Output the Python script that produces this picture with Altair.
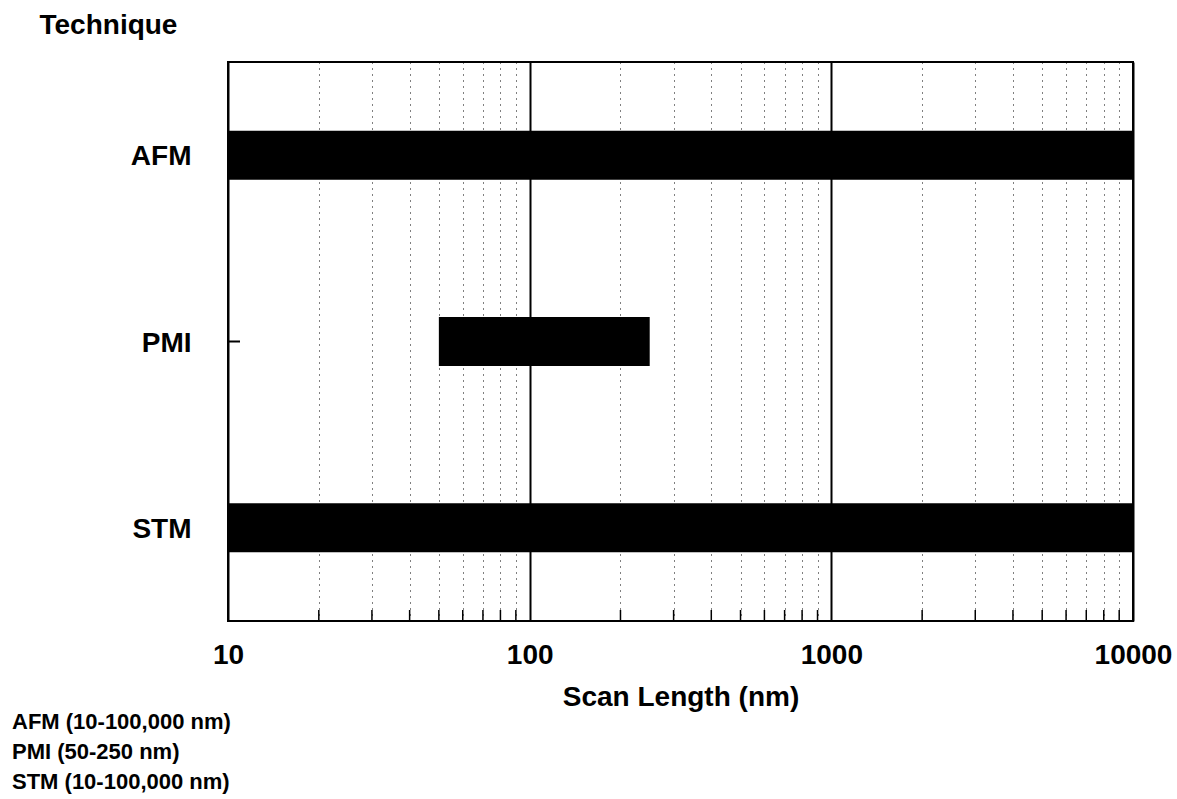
import altair as alt
import pandas as pd

# ---- data ----
techniques = ["AFM", "PMI", "STM"]
range_start = [10, 50, 10]
range_end = [100000, 250, 100000]
major_ticks = [10, 100, 1000, 10000]
minor_ticks = [20, 30, 40, 50, 60, 70, 80, 90,
               200, 300, 400, 500, 600, 700, 800, 900,
               2000, 3000, 4000, 5000, 6000, 7000, 8000, 9000]

FONT = "Liberation Sans"
W, H = 905, 559

bars_df = pd.DataFrame({"Technique": techniques, "start": range_start, "end": range_end})
minor_df = pd.DataFrame({"v": minor_ticks})

footnote = [f"{t} ({s:,}-{e:,} nm)" for t, s, e in zip(techniques, range_start, range_end)]

all_ticks = sorted(major_ticks + minor_ticks)
major_test = " || ".join(f"datum.value == {v}" for v in major_ticks)

x_scale = alt.Scale(type="log", domain=[10, 10000], nice=False)
y_scale = alt.Scale(domain=techniques, paddingInner=0, paddingOuter=0)

x_axis = alt.Axis(
    values=all_ticks,
    title="Scan Length (nm)",
    titleFont=FONT, titleFontSize=28, titleFontWeight="bold", titleColor="black",
    titlePadding=14,
    labelFont=FONT, labelFontSize=28, labelFontWeight="bold", labelColor="black",
    labelExpr=f"({major_test}) ? format(datum.value, 'd') : ''",
    labelFlush=False, labelOverlap=False, labelPadding=20,
    ticks=False, tickSize=0, domain=False,
    grid=True, gridColor="black",
    gridDash={"condition": {"test": major_test, "value": [1, 0]}, "value": [1, 5]},
    gridWidth={"condition": {"test": major_test, "value": 2}, "value": 1},
    gridOpacity=1,
)

y_axis = alt.Axis(
    title="Technique",
    titleAngle=0, titleX=-189, titleY=-29, titleAlign="left", titleBaseline="alphabetic",
    titleFont=FONT, titleFontSize=28, titleFontWeight="bold", titleColor="black",
    labelFont=FONT, labelFontSize=28, labelFontWeight="bold", labelColor="black",
    labelPadding=37, labelOffset=2,
    ticks=False, tickSize=0, domain=False, grid=False,
)

bars = alt.Chart(bars_df).mark_bar(height=49, color="black", clip=True).encode(
    x=alt.X("start:Q", scale=x_scale, axis=x_axis),
    x2="end:Q",
    y=alt.Y("Technique:N", scale=y_scale, axis=y_axis, sort=techniques),
)

y_ticks = alt.Chart(bars_df).mark_rule(color="black", strokeWidth=2).encode(
    y=alt.Y("Technique:N", scale=y_scale, sort=techniques),
    x=alt.value(0),
    x2=alt.value(12),
)

x_minor = alt.Chart(minor_df).mark_rule(color="black", strokeWidth=1.5).encode(
    x=alt.X("v:Q", scale=x_scale),
    y=alt.value(H - 11),
    y2=alt.value(H),
)

chart = alt.layer(bars, y_ticks, x_minor).properties(
    width=W, height=H,
    background="white",
    autosize=alt.AutoSizeParams(type="none"),
    padding={"left": 228, "top": 62, "right": 44, "bottom": 178},
    title=alt.TitleParams(
        text=footnote, orient="bottom", anchor="start", frame="group",
        dx=-216, offset=1, font=FONT, fontSize=22, fontWeight="bold",
        color="black", lineHeight=30, baseline="top",
    ),
).configure_view(stroke="black", strokeWidth=2)

chart.save("out.html", embed_options={"renderer": "svg", "actions": False})
